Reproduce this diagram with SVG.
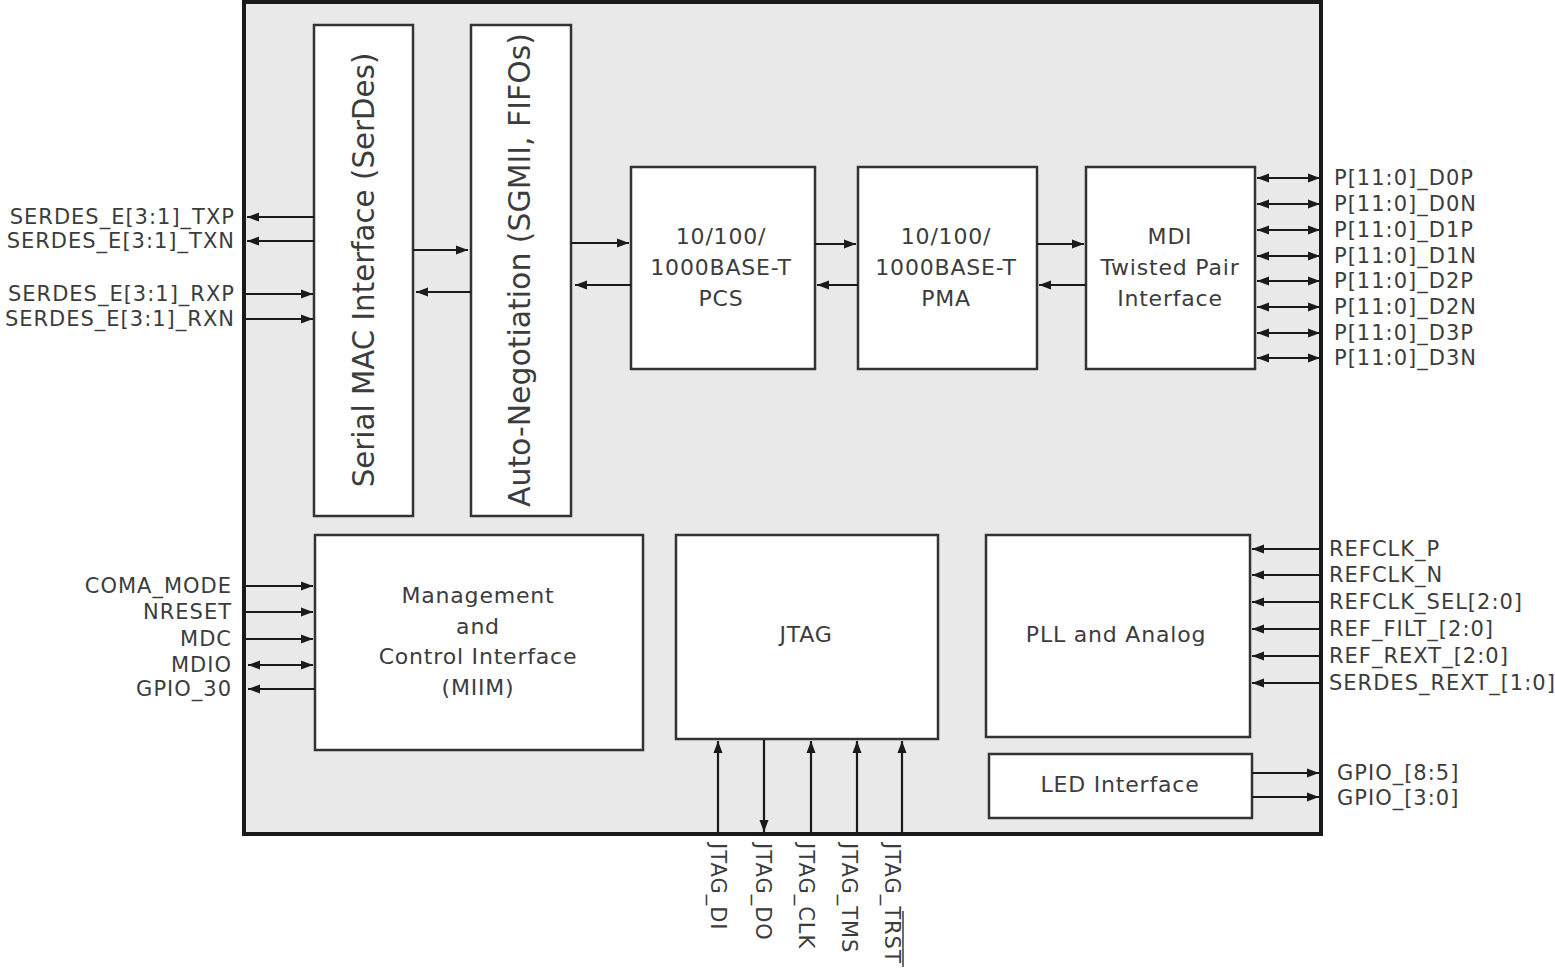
<svg xmlns="http://www.w3.org/2000/svg" width="1555" height="968" viewBox="0 0 1555 968">
<style>
.box{fill:#ffffff;stroke:#333333;stroke-width:2.5}
.outer{fill:#e9e9e9;stroke:#1a1a1a;stroke-width:4}
.ar{stroke:#1a1a1a;stroke-width:2.2;fill:none}
.one{marker-end:url(#ah)}
.two{marker-start:url(#ah);marker-end:url(#ah)}
text{font-family:"DejaVu Sans","Liberation Sans",sans-serif;fill:#3c3c3c}
.lbl{font-size:21px;letter-spacing:1px}
.r{text-anchor:end}
.bt{font-size:22px;letter-spacing:0.8px;text-anchor:middle}
.vt{font-size:29.5px;text-anchor:middle}
</style>
<defs>
<marker id="ah" markerUnits="userSpaceOnUse" markerWidth="13" markerHeight="10" refX="12" refY="5" orient="auto-start-reverse" viewBox="0 0 13 10">
<path d="M0,0.5 L12,5 L0,9.5 z" fill="#1a1a1a"/>
</marker>
</defs>
<rect id="chip" class="outer" x="244" y="2" width="1077" height="832"/>
<g id="serdes"><rect class="box" x="314" y="25" width="99" height="491"/>
<text class="vt" transform="translate(374,270) rotate(-90)" style="font-size:29.3px">Serial MAC Interface (SerDes)</text></g>
<g id="autoneg"><rect class="box" x="471" y="25" width="100" height="491"/>
<text class="vt" transform="translate(530,270) rotate(-90)" style="font-size:29.9px">Auto-Negotiation (SGMII, FIFOs)</text></g>
<g id="pcs"><rect class="box" x="631" y="167" width="184" height="202"/>
<text class="bt" x="721" y="244">10/100/</text><text class="bt" x="721" y="275">1000BASE-T</text><text class="bt" x="721" y="306">PCS</text></g>
<g id="pma"><rect class="box" x="858" y="167" width="179" height="202"/>
<text class="bt" x="946" y="244">10/100/</text><text class="bt" x="946" y="275">1000BASE-T</text><text class="bt" x="946" y="306">PMA</text></g>
<g id="mdi"><rect class="box" x="1086" y="167" width="169" height="202"/>
<text class="bt" x="1170" y="244">MDI</text><text class="bt" x="1170" y="275">Twisted Pair</text><text class="bt" x="1170" y="306">Interface</text></g>
<g id="mgmt"><rect class="box" x="315" y="535" width="328" height="215"/>
<text class="bt" x="478" y="603">Management</text><text class="bt" x="478" y="634">and</text><text class="bt" x="478" y="664">Control Interface</text><text class="bt" x="478" y="695">(MIIM)</text></g>
<g id="jtag"><rect class="box" x="676" y="535" width="262" height="204"/>
<text class="bt" x="806" y="642">JTAG</text></g>
<g id="pll"><rect class="box" x="986" y="535" width="264" height="202"/>
<text class="bt" x="1116" y="642">PLL and Analog</text></g>
<g id="led"><rect class="box" x="989" y="754" width="263" height="64"/>
<text class="bt" x="1120" y="792">LED Interface</text></g>
<g id="connectors">
<line class="ar one" x1="314" y1="217" x2="247" y2="217"/>
<line class="ar one" x1="314" y1="241" x2="247" y2="241"/>
<line class="ar one" x1="246" y1="294" x2="313" y2="294"/>
<line class="ar one" x1="246" y1="319" x2="313" y2="319"/>
<line class="ar one" x1="413" y1="250" x2="468" y2="250"/>
<line class="ar one" x1="471" y1="292" x2="416" y2="292"/>
<line class="ar one" x1="571" y1="243" x2="629" y2="243"/>
<line class="ar one" x1="631" y1="285" x2="575" y2="285"/>
<line class="ar one" x1="815" y1="244" x2="856" y2="244"/>
<line class="ar one" x1="858" y1="285" x2="817" y2="285"/>
<line class="ar one" x1="1037" y1="244" x2="1084" y2="244"/>
<line class="ar one" x1="1086" y1="285" x2="1039" y2="285"/>
<line class="ar two" x1="1257" y1="178" x2="1320" y2="178"/>
<line class="ar two" x1="1257" y1="204" x2="1320" y2="204"/>
<line class="ar two" x1="1257" y1="230" x2="1320" y2="230"/>
<line class="ar two" x1="1257" y1="256" x2="1320" y2="256"/>
<line class="ar two" x1="1257" y1="281" x2="1320" y2="281"/>
<line class="ar two" x1="1257" y1="307" x2="1320" y2="307"/>
<line class="ar two" x1="1257" y1="333" x2="1320" y2="333"/>
<line class="ar two" x1="1257" y1="358" x2="1320" y2="358"/>
<line class="ar one" x1="246" y1="586" x2="313" y2="586"/>
<line class="ar one" x1="246" y1="612" x2="313" y2="612"/>
<line class="ar one" x1="246" y1="639" x2="313" y2="639"/>
<line class="ar two" x1="248" y1="665" x2="313" y2="665"/>
<line class="ar one" x1="315" y1="689" x2="248" y2="689"/>
<line class="ar one" x1="1320" y1="549" x2="1252" y2="549"/>
<line class="ar one" x1="1320" y1="575" x2="1252" y2="575"/>
<line class="ar one" x1="1320" y1="602" x2="1252" y2="602"/>
<line class="ar one" x1="1320" y1="629" x2="1252" y2="629"/>
<line class="ar one" x1="1320" y1="656" x2="1252" y2="656"/>
<line class="ar one" x1="1320" y1="683" x2="1252" y2="683"/>
<line class="ar one" x1="1252" y1="773" x2="1319" y2="773"/>
<line class="ar one" x1="1252" y1="797" x2="1319" y2="797"/>
<line class="ar one" x1="718" y1="833" x2="718" y2="741"/>
<line class="ar one" x1="764" y1="740" x2="764" y2="832"/>
<line class="ar one" x1="811" y1="833" x2="811" y2="741"/>
<line class="ar one" x1="857" y1="833" x2="857" y2="741"/>
<line class="ar one" x1="902" y1="833" x2="902" y2="741"/>
</g>
<g id="labels">
<text class="lbl r" x="235" y="224">SERDES_E[3:1]_TXP</text>
<text class="lbl r" x="235" y="248">SERDES_E[3:1]_TXN</text>
<text class="lbl r" x="235" y="301">SERDES_E[3:1]_RXP</text>
<text class="lbl r" x="235" y="326">SERDES_E[3:1]_RXN</text>
<text class="lbl r" x="232" y="593">COMA_MODE</text>
<text class="lbl r" x="232" y="619">NRESET</text>
<text class="lbl r" x="232" y="646">MDC</text>
<text class="lbl r" x="232" y="672">MDIO</text>
<text class="lbl r" x="232" y="696">GPIO_30</text>
<text class="lbl" x="1334" y="185">P[11:0]_D0P</text>
<text class="lbl" x="1334" y="211">P[11:0]_D0N</text>
<text class="lbl" x="1334" y="237">P[11:0]_D1P</text>
<text class="lbl" x="1334" y="263">P[11:0]_D1N</text>
<text class="lbl" x="1334" y="288">P[11:0]_D2P</text>
<text class="lbl" x="1334" y="314">P[11:0]_D2N</text>
<text class="lbl" x="1334" y="340">P[11:0]_D3P</text>
<text class="lbl" x="1334" y="365">P[11:0]_D3N</text>
<text class="lbl" x="1329" y="556">REFCLK_P</text>
<text class="lbl" x="1329" y="582">REFCLK_N</text>
<text class="lbl" x="1329" y="609">REFCLK_SEL[2:0]</text>
<text class="lbl" x="1329" y="636">REF_FILT_[2:0]</text>
<text class="lbl" x="1329" y="663">REF_REXT_[2:0]</text>
<text class="lbl" x="1329" y="690">SERDES_REXT_[1:0]</text>
<text class="lbl" x="1337" y="780">GPIO_[8:5]</text>
<text class="lbl" x="1337" y="805">GPIO_[3:0]</text>
<text class="lbl" transform="translate(711,843) rotate(90)">JTAG_DI</text>
<text class="lbl" transform="translate(756,843) rotate(90)">JTAG_DO</text>
<text class="lbl" transform="translate(799,843) rotate(90)">JTAG_CLK</text>
<text class="lbl" transform="translate(842,843) rotate(90)">JTAG_TMS</text>
<text class="lbl" transform="translate(885,843) rotate(90)">JTAG_TRST</text>
<line x1="903" y1="911" x2="903" y2="967" stroke="#3c3c3c" stroke-width="1.5"/>
</g>
</svg>
